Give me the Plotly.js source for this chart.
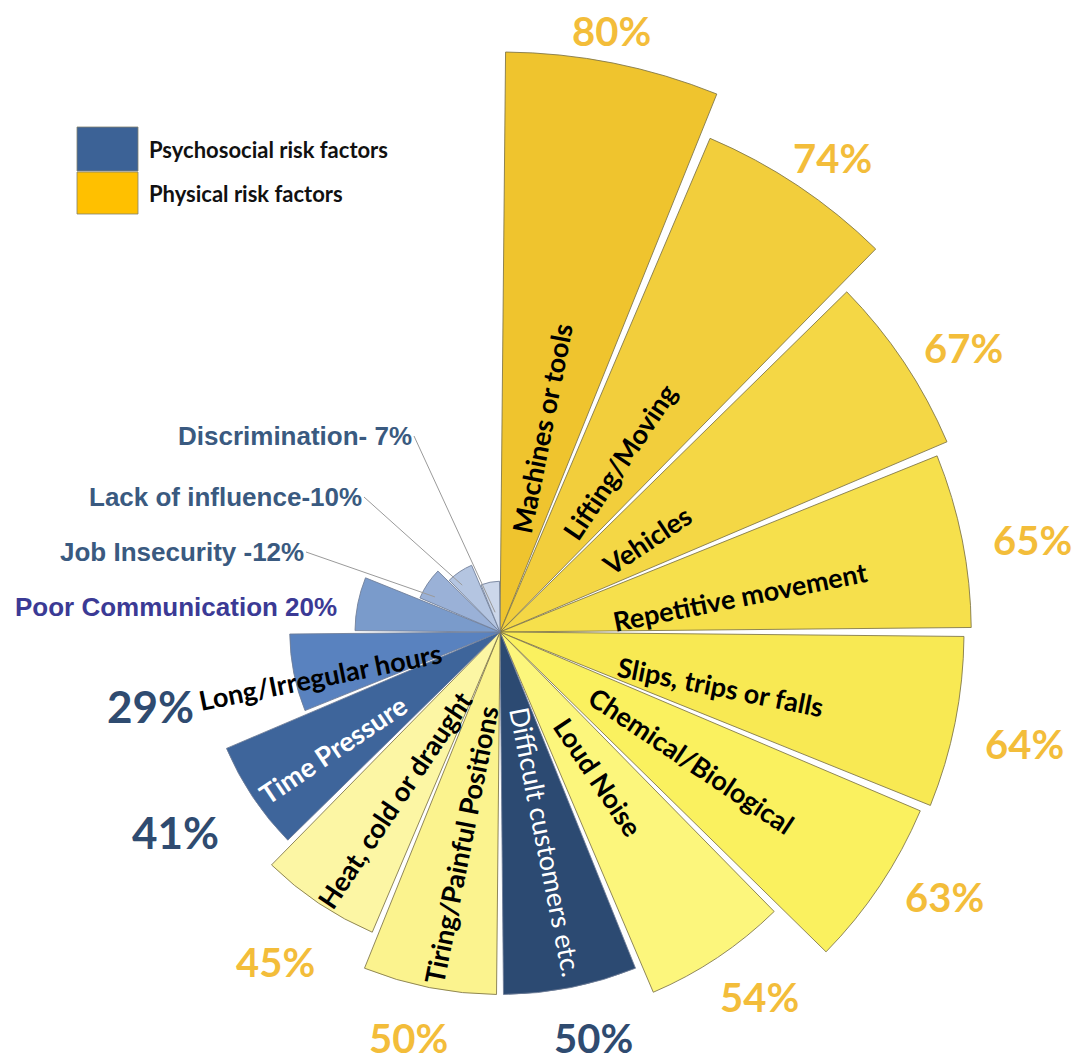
<!DOCTYPE html>
<html><head><meta charset="utf-8">
<script src="https://cdn.plot.ly/plotly-3.0.1.min.js"></script>
<style>
html,body{margin:0;padding:0;overflow:hidden;background:#ffffff;width:1079px;height:1063px;}
#chart{position:absolute;}
</style>
</head><body>
<div id="chart"></div>
<script>
// ---------------- DATA ----------------
const categories = ["Machines or tools","Lifting/Moving","Vehicles","Repetitive movement",
  "Slips, trips or falls","Chemical/Biological","Loud Noise","Difficult customers etc.",
  "Tiring/Painful Positions","Heat, cold or draught","Time Pressure","Long/Irregular hours",
  "Poor Communication","Job Insecurity","Lack of influence","Discrimination"];
const values = [80,74,67,65,64,63,54,50,50,45,41,29,20,12,10,7];
const groups = ["phys","phys","phys","phys","phys","phys","phys","psy",
  "phys","phys","psy","psy","psy","psy","psy","psy"];
const calloutLabels = {12:"Poor Communication 20%",13:"Job Insecurity -12%",14:"Lack of influence-10%",15:"Discrimination- 7%"};
const legendNames = {psy:"Psychosocial risk factors", phys:"Physical risk factors"};

// ---------------- STYLES / POSITIONS ----------------
const fillColors = ["#EFC42E","#F2CE3C","#F4D745","#F6E04C","#F8E953","#FAF15F","#FCF67C","#2C4A72",
  "#FBF38E","#FCF6A4","#3E659B","#5982BF","#7A9BCB","#9AB1D7","#B4C5E1","#CCD7EA"];
const lineColors = groups.map(g => g==="phys" ? "rgba(125,115,70,0.85)" : "rgba(110,125,150,0.85)");
const innerColors = ["#000","#000","#000","#000","#000","#000","#000","#fff","#000","#000","#fff","#000"];
const innerWeights = ["bold","bold","bold","bold","bold","bold","bold","normal","bold","bold","bold","bold"];
const innerR = [28.7,28.7,23.8,33.4,31.3,31.8,24.2,29.6,29.9,27.3,28.2,25.5];
const innerDTheta = [0.3,1.4,1.9,2.9,2.7,0,-0.5,-1.1,-0.8,-1.7,-1.4,-2.8];
const pctR = [84.3,79.9,75.0,74.5,74.0,71.4,61.8,57.5,57.4,55.0,52.6,49.3];
const pctDTheta = [-0.7,1.3,2.3,1.4,0.8,-2.9,-1.7,-1.7,1.4,0.5,2.1,-0.7];
const pctColor = {phys:"#F3BD3A", psy:"#2F4B70"};
const calloutTipR = {13:10.2, 14:8.3, 15:2.8};
const calloutTipDTheta = {13:-5.4, 14:-5.1, 15:-2.7};
const calloutTextPx = {12:[176,607],13:[306,552],14:[364,497],15:[414,436]};
const calloutColors = {12:"#3B3A95",13:"#3A5A80",14:"#3A5A80",15:"#3A5A80"};

const CX = 500, CY = 632, K = 7.25, S = 1248;   // centre (px), px per %, plot size
const RMAX = S/2/K;
const LEFT = CX - S/2, TOP = CY - S/2;
const el = document.getElementById('chart');
el.style.left = LEFT + 'px'; el.style.top = TOP + 'px';
el.style.width = S + 'px'; el.style.height = S + 'px';

const STEP = 360/categories.length;
const theta = categories.map((_, i) => i*STEP + STEP/2);

function polarPx(r, th){ const a = th*Math.PI/180; return [CX + r*K*Math.sin(a), CY - r*K*Math.cos(a)]; }
function paper(px, py){ return {x:(px-LEFT)/S, y:1-(py-TOP)/S}; }

const FONT = 'Lato, "Open Sans", sans-serif';
const ARIAL = '"Liberation Sans", Arial, sans-serif';

const traces = [{
  type:'barpolar', r: values, theta: theta,
  width: categories.map(() => STEP - 1.1),
  marker:{color: fillColors, line:{color: lineColors, width:1}},
  hoverinfo:'skip', showlegend:false
}];

const annotations = [];
// inner wedge labels and percentage labels
for (let i = 0; i < 12; i++) {
  const th = theta[i] + innerDTheta[i];
  const [px, py] = polarPx(innerR[i], th);
  const p = paper(px, py);
  const ang = theta[i] < 180 ? theta[i] - 90 : theta[i] - 270;
  annotations.push({xref:'paper', yref:'paper', x:p.x, y:p.y, xanchor:'center', yanchor:'middle',
    text: categories[i], showarrow:false, textangle: ang,
    font:{family:FONT, size:27, color: innerColors[i], weight: innerWeights[i]}});
  const [qx, qy] = polarPx(pctR[i], theta[i] + pctDTheta[i]);
  const q = paper(qx, qy);
  annotations.push({xref:'paper', yref:'paper', x:q.x, y:q.y, xanchor:'center', yanchor:'middle',
    text: values[i] + '%', showarrow:false,
    font:{family:FONT, size: groups[i]==='psy' && values[i] < 45 ? 44 : 40, color: pctColor[groups[i]], weight:'bold'}});
}
// callouts for the small psychosocial wedges
for (let i = 12; i < 16; i++) {
  const [tx, ty] = calloutTextPx[i];
  if (calloutTipR[i] === undefined) {
    const p = paper(tx, ty);
    annotations.push({xref:'paper', yref:'paper', x:p.x, y:p.y, xanchor:'center', yanchor:'middle',
      text: calloutLabels[i], showarrow:false,
      font:{family:ARIAL, size:26, color: calloutColors[i], weight:'bold'}});
  } else {
    const [hx, hy] = polarPx(calloutTipR[i], theta[i] + calloutTipDTheta[i]);
    const h = paper(hx, hy);
    annotations.push({xref:'paper', yref:'paper', x:h.x, y:h.y, ax: tx - hx, ay: ty - hy,
      xanchor:'right', yanchor:'middle', text: calloutLabels[i], showarrow:true,
      arrowhead:0, arrowwidth:1, arrowcolor:'#9a9a9a', standoff:0,
      font:{family:ARIAL, size:26, color: calloutColors[i], weight:'bold'}});
  }
}
// legend (drawn as boxes + text)
const legendItems = [["psy", 127, 171, "#3C6296"], ["phys", 172, 214, "#FFC000"]];
const shapes = [];
legendItems.forEach(([g, y0, y1, col]) => {
  const a = paper(77, y0), b = paper(138, y1);
  shapes.push({type:'rect', xref:'paper', yref:'paper', x0:a.x, x1:b.x, y0:a.y, y1:b.y,
    fillcolor: col, line:{color:'rgba(130,130,110,0.8)', width:1}});
  const t = paper(147, (y0 + y1)/2);
  annotations.push({xref:'paper', yref:'paper', x:t.x, y:t.y, xanchor:'left', yanchor:'middle',
    text: legendNames[g], showarrow:false, font:{family:FONT, size:22, color:'#111', weight:'bold'}});
});

const layout = {
  width:S, height:S, margin:{l:0,r:0,t:0,b:0}, autosize:false,
  paper_bgcolor:'rgba(0,0,0,0)', plot_bgcolor:'rgba(0,0,0,0)', showlegend:false,
  polar:{domain:{x:[0,1], y:[0,1]}, bgcolor:'rgba(0,0,0,0)',
    radialaxis:{range:[0,RMAX], visible:false, showgrid:false, showline:false, showticklabels:false, ticks:''},
    angularaxis:{rotation:90, direction:'clockwise', thetaunit:'degrees', visible:false,
      showgrid:false, showline:false, showticklabels:false, ticks:''}},
  annotations: annotations, shapes: shapes
};
Plotly.newPlot(el, traces, layout, {staticPlot:true, displayModeBar:false});
</script>
</body></html>
